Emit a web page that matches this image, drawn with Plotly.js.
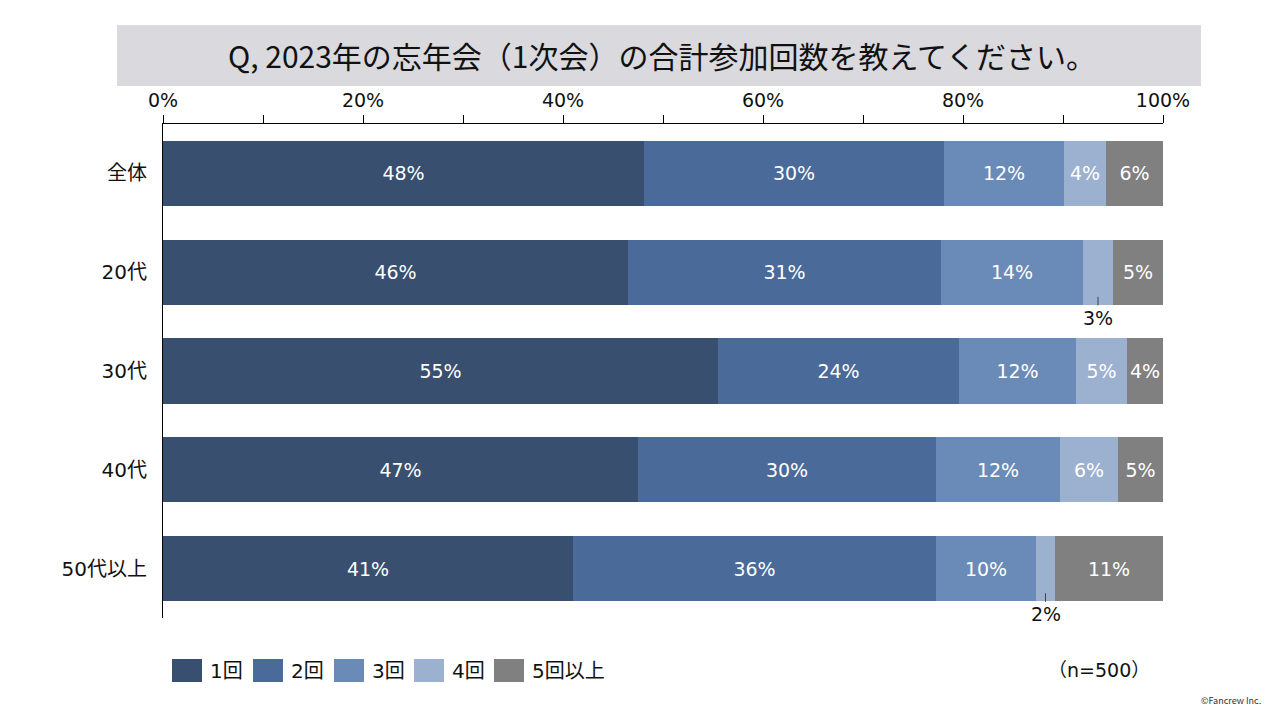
<!DOCTYPE html>
<html><head><meta charset="utf-8">
<script src="https://cdn.plot.ly/plotly-3.0.1.min.js"></script>
<style>html,body{margin:0;padding:0;background:#fff;}#chart{width:1280px;height:720px;}</style>
</head><body><div id="chart"></div>
<script>
const categories = ["全体", "20代", "30代", "40代", "50代以上"];
const seriesNames = ["1回", "2回", "3回", "4回", "5回以上"];
const v1 = [48.1, 46.5, 55.5, 47.5, 41.0];
const v2 = [30.0, 31.3, 24.1, 29.8, 36.3];
const v3 = [12.0, 14.2, 11.7, 12.4, 10.0];
const v4 = [4.2, 3.0, 5.1, 5.8, 1.9];
const v5 = [5.7, 5.0, 3.6, 4.5, 10.8];
const colors = ["#384f6f", "#4a6a99", "#6a8bb8", "#9cb0cf", "#808080"];
const insideLabels = [
  ["48%", "46%", "55%", "47%", "41%"],
  ["30%", "31%", "24%", "30%", "36%"],
  ["12%", "14%", "12%", "12%", "10%"],
  ["4%", "", "5%", "6%", ""],
  ["6%", "5%", "4%", "5%", "11%"]
];
const outsideLabels = ["", "3%", "", "", "2%"];
const tickVals = [0, 20, 40, 60, 80, 100];
const tickText = ["0%", "20%", "40%", "60%", "80%", "100%"];

const series = [v1, v2, v3, v4, v5];
const font = "DejaVu Sans, Noto Sans CJK JP, sans-serif";
const titleFont = "Noto Sans CJK JP, sans-serif";
const traces = series.map((vals, i) => ({
  type: "bar", orientation: "h", name: seriesNames[i],
  x: vals, y: categories, width: 0.66,
  marker: {color: colors[i], line: {width: 0}},
  text: insideLabels[i], textposition: "inside", insidetextanchor: "middle",
  textangle: 0, constraintext: "none",
  textfont: {color: "#ffffff", size: 19, family: font},
  hoverinfo: "skip", showlegend: false
}));

// pixel -> paper helpers (plot area: x 163..1163, y 124..618)
const px = p => (p - 163) / 1000;
const py = p => (618 - p) / 494;

const annotations = [];
const shapes = [{type: "rect", xref: "paper", yref: "paper", layer: "below",
  x0: px(117), x1: px(1201), y0: py(86), y1: py(25),
  fillcolor: "#d9d9de", line: {width: 0}}];

categories.forEach((c, j) => {
  if (outsideLabels[j]) {
    const mid = v1[j] + v2[j] + v3[j] + v4[j] / 2;
    annotations.push({
      x: mid, y: j + 0.25, xref: "x", yref: "y",
      text: outsideLabels[j], showarrow: true, arrowhead: 0, arrowwidth: 1,
      arrowcolor: "#404040", ax: 0, ay: 21, standoff: 0, startstandoff: 0,
      yanchor: "middle", font: {size: 19, color: "#111", family: font}
    });
  }
});

// custom legend built from seriesNames / colors
const legendX = [172, 253, 334, 414, 494];
seriesNames.forEach((n, i) => {
  shapes.push({type: "rect", xref: "paper", yref: "paper",
    x0: px(legendX[i]), x1: px(legendX[i] + 30), y0: py(682), y1: py(659),
    fillcolor: colors[i], line: {width: 0}});
  annotations.push({xref: "paper", yref: "paper", x: px(legendX[i] + 36), y: py(671),
    xanchor: "left", yanchor: "middle", text: n, showarrow: false,
    font: {size: 20, color: "#111", family: font}});
});

annotations.push({xref: "paper", yref: "paper", x: px(1152), y: py(670), xanchor: "right",
  yanchor: "middle", text: "（n=500）", showarrow: false, font: {size: 19, color: "#111", family: font}});
annotations.push({xref: "paper", yref: "paper", x: px(1263), y: py(700), xanchor: "right",
  yanchor: "middle", text: "©Fancrew Inc.", showarrow: false, font: {size: 9, color: "#333", family: titleFont}});

const layout = {
  width: 1280, height: 720,
  margin: {l: 163, r: 117, t: 124, b: 102},
  paper_bgcolor: "#ffffff", plot_bgcolor: "#ffffff",
  barmode: "stack", bargap: 0.34,
  showlegend: false,
  title: {text: "Q, 2023年の忘年会（1次会）の合計参加回数を教えてください。",
    x: px(662), xref: "paper", xanchor: "center", y: 1 - 57/720, yref: "container", yanchor: "middle",
    font: {size: 30, color: "#111", family: titleFont}},
  xaxis: {range: [0, 100], side: "top", tickvals: tickVals, ticktext: tickText,
    showgrid: false, zeroline: false, showline: true, linecolor: "#000", linewidth: 1,
    ticks: "outside", ticklen: 8, tickcolor: "#000",
    minor: {dtick: 10, ticks: "outside", ticklen: 8, tickcolor: "#000"},
    tickfont: {size: 19, color: "#111", family: font}, fixedrange: true},
  yaxis: {autorange: false, range: [4.5, -0.5], type: "category",
    showgrid: false, zeroline: false, showline: true, linecolor: "#000", linewidth: 1,
    ticks: "", ticklabelstandoff: 11,
    tickfont: {size: 20, color: "#111", family: font}, fixedrange: true},
  shapes: shapes,
  annotations: annotations
};
Plotly.newPlot("chart", traces, layout, {staticPlot: true, displayModeBar: false});
</script></body></html>
